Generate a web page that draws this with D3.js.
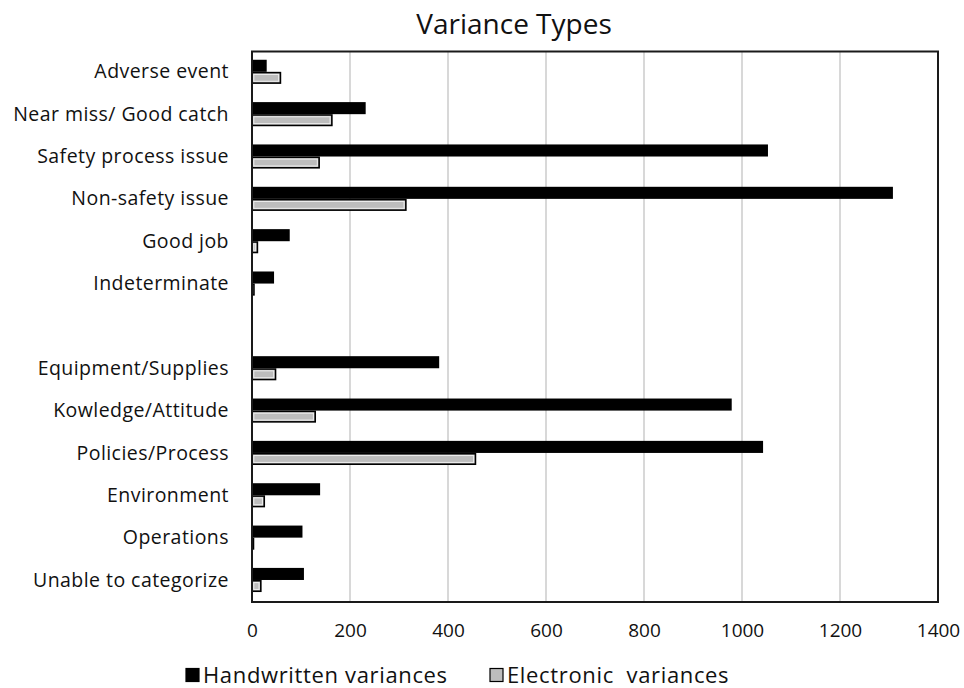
<!DOCTYPE html>
<html>
<head>
<meta charset="utf-8">
<script src="https://cdn.jsdelivr.net/npm/d3@7/dist/d3.min.js"></script>
<style>
  html, body { margin: 0; padding: 0; background: #fff; }
  svg { display: block; }
  text { font-family: "Open Sans", "Noto Sans", sans-serif; fill: #111; }
</style>
</head>
<body>
<svg id="chart" width="964" height="688"></svg>
<script>
// ---- data ----
const title = "Variance Types";
const categories = [
  "Adverse event", "Near miss/ Good catch", "Safety process issue", "Non-safety issue",
  "Good job", "Indeterminate", "",
  "Equipment/Supplies", "Kowledge/Attitude", "Policies/Process", "Environment",
  "Operations", "Unable to categorize"
];
const seriesNames = ["Handwritten variances", "Electronic  variances"];
const handwritten = [30, 232, 1053, 1308, 77, 45, null, 382, 979, 1043, 139, 103, 106];
const electronic  = [58, 163, 137, 314, 11, 4, null, 48, 129, 456, 25, 3, 18];
const xTicks = [0, 200, 400, 600, 800, 1000, 1200, 1400];

// ---- layout ----
const svg = d3.select("#chart");
const pL = 252, pR = 938, pT = 51.5, pB = 602;

const x = d3.scaleLinear().domain([0, 1400]).range([pL, pR]);
const y = d3.scaleBand().domain(d3.range(categories.length)).range([pT, pB]);
const sub = d3.scaleBand().domain(seriesNames)
  .range([y.bandwidth() * 0.195, y.bandwidth() * 0.765]);

// title
svg.append("text").attr("x", 514).attr("y", 34).attr("text-anchor", "middle")
  .style("font-size", "28px").text(title);

// gridlines
svg.append("g").selectAll("line").data(xTicks.filter(t => t > 0 && t < 1400)).join("line")
  .attr("x1", d => x(d)).attr("x2", d => x(d))
  .attr("y1", pT).attr("y2", pB)
  .attr("stroke", "#cfcfcf").attr("stroke-width", 1.6);

// bars
const rows = categories.map((c, i) => ({ i, c, vals: [handwritten[i], electronic[i]] }));
const g = svg.append("g");
rows.forEach(r => {
  if (r.vals[0] === null) return;
  const y0 = y(r.i);
  g.append("rect")
    .attr("x", x(0)).attr("y", y0 + sub(seriesNames[0]))
    .attr("width", x(r.vals[0]) - x(0)).attr("height", sub.bandwidth())
    .attr("fill", "#000");
  const ex = x(0), ey = y0 + sub(seriesNames[1]) + 0.8;
  const ew = x(r.vals[1]) - x(0), eh = sub.bandwidth() - 1.6;
  g.append("rect")
    .attr("x", ex).attr("y", ey).attr("width", ew).attr("height", eh)
    .attr("fill", "#bdbdbd").attr("stroke", "#000").attr("stroke-width", 1.6);
  if (ew > 4) {
    g.append("rect")
      .attr("x", ex + 1.8).attr("y", ey + 1.8).attr("width", ew - 3.6).attr("height", eh - 3.6)
      .attr("fill", "none").attr("stroke", "#eeeeee").attr("stroke-width", 1);
  }
});

// frame
svg.append("rect").attr("x", pL).attr("y", pT)
  .attr("width", pR - pL).attr("height", pB - pT)
  .attr("fill", "none").attr("stroke", "#1a1a1a").attr("stroke-width", 2);

// x axis labels
const xAxis = d3.axisBottom(x).tickValues(xTicks).tickSize(0).tickPadding(0).tickFormat(d3.format("d"));
const xg = svg.append("g").attr("transform", `translate(0, 623)`).call(xAxis);
xg.select(".domain").remove();
xg.selectAll("text").style("font-size", "19px").style("font-family", "'Open Sans', sans-serif").attr("fill", "#111");

// y axis labels
const yAxis = d3.axisLeft(y).tickSize(0).tickPadding(23).tickFormat(i => categories[i]);
const yg = svg.append("g").attr("transform", `translate(${pL}, -0.5)`).call(yAxis);
yg.select(".domain").remove();
yg.selectAll("text").style("font-size", "19.5px").style("letter-spacing", "0.45px")
  .style("font-family", "'Open Sans', sans-serif").attr("fill", "#111");

// legend
const legend = [
  { name: seriesNames[0], sx: 186, fill: "#000" },
  { name: seriesNames[1], sx: 490, fill: "#bdbdbd" }
];
const lg = svg.append("g");
legend.forEach(l => {
  lg.append("rect").attr("x", l.sx).attr("y", 668.5).attr("width", 13).attr("height", 13)
    .attr("fill", l.fill).attr("stroke", "#000").attr("stroke-width", 1.2);
  lg.append("text").attr("x", l.sx + 17).attr("y", 683)
    .style("font-size", "22px").style("letter-spacing", "0.65px")
    .style("white-space", "pre").text(l.name);
});
</script>
</body>
</html>
